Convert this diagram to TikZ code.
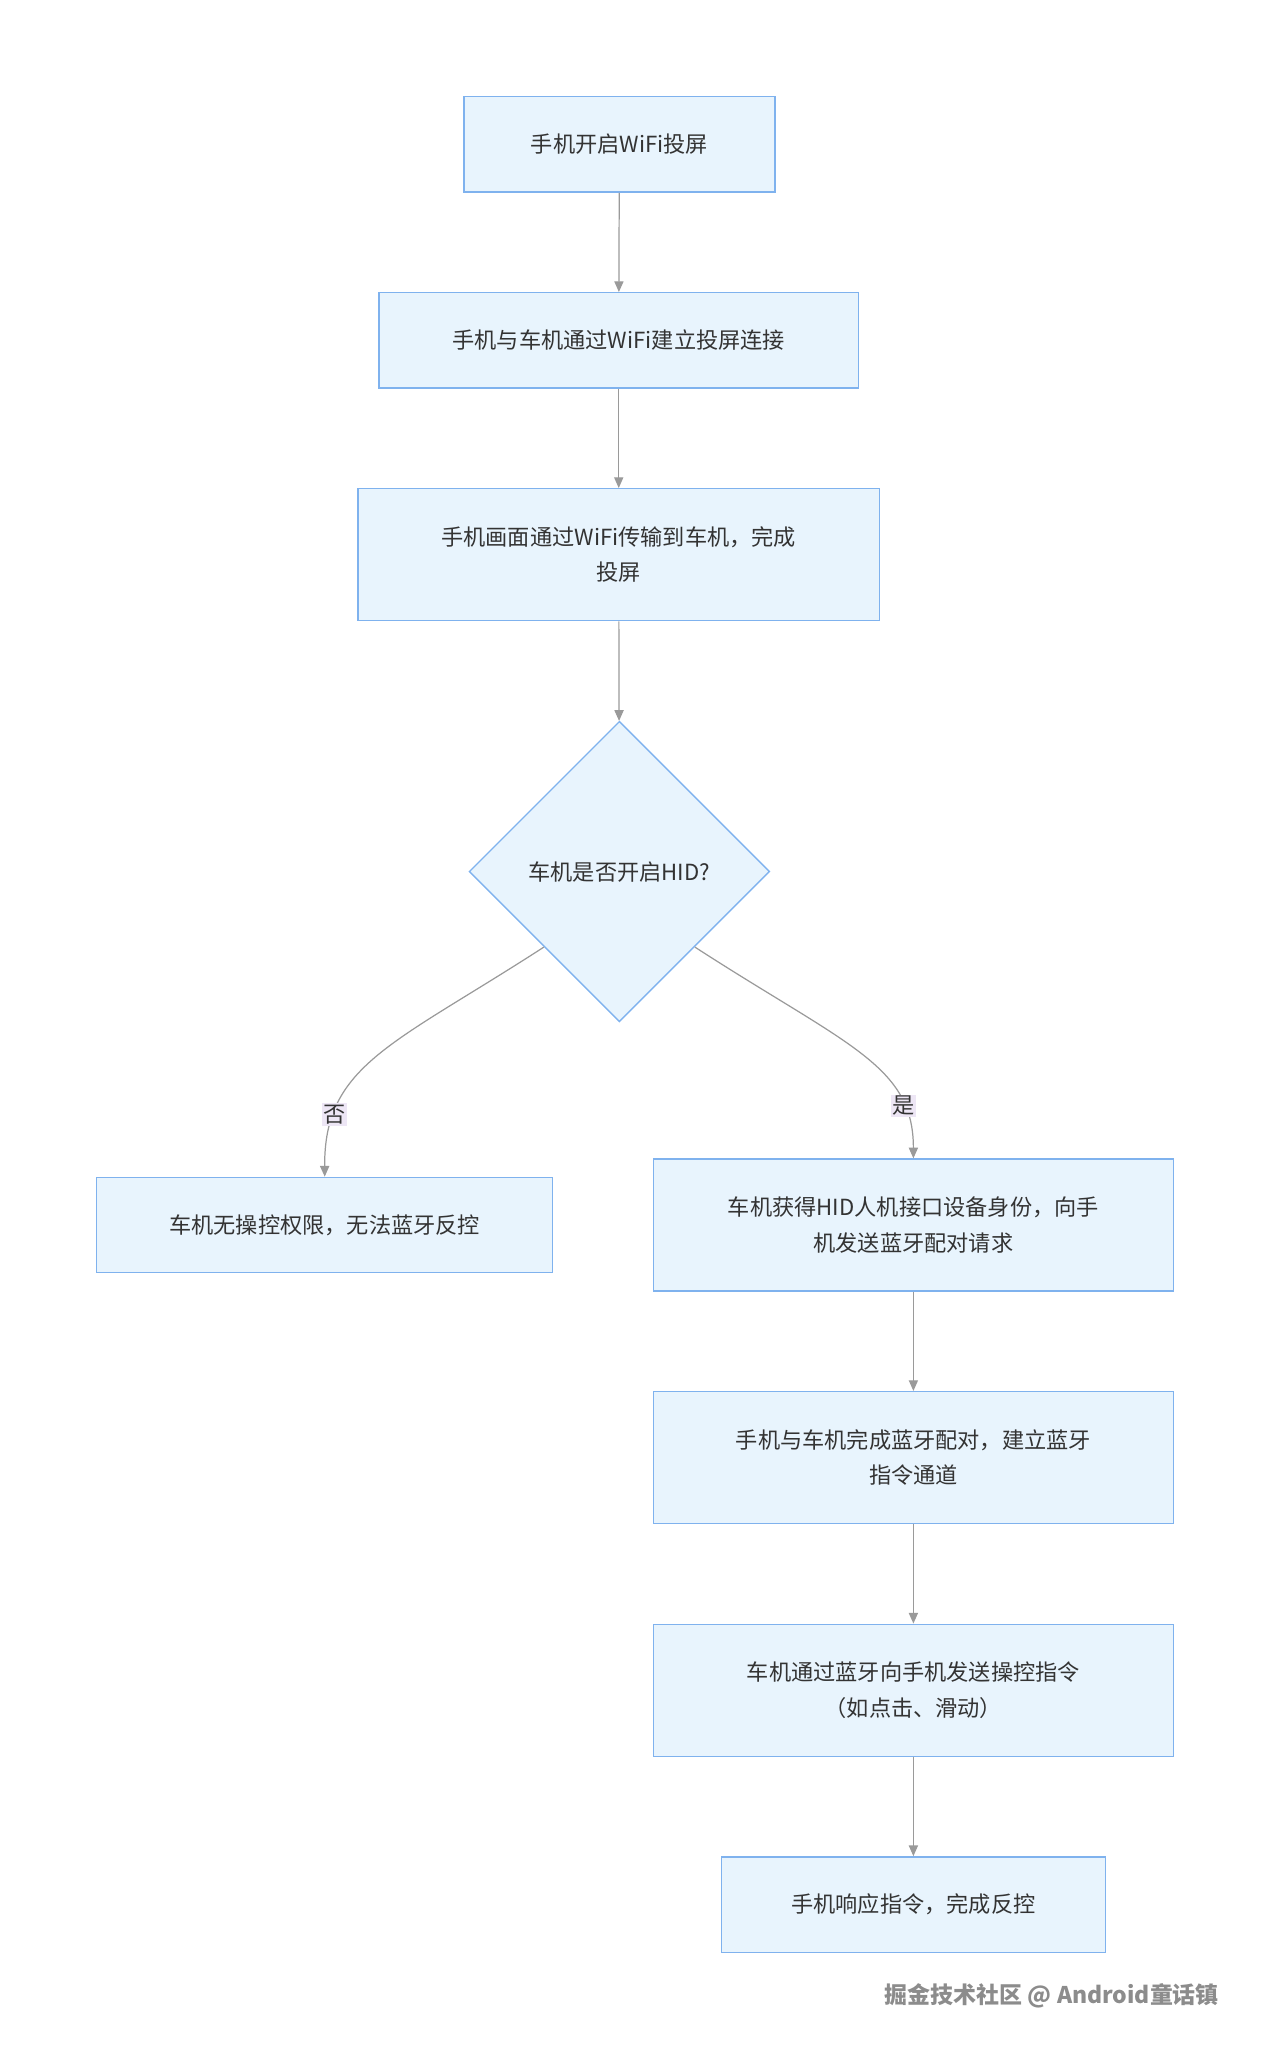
\documentclass[tikz,border=0pt]{standalone}
\usepackage{fontspec}
\setmainfont{Noto Sans CJK SC}
\usepackage{xcolor}
\usetikzlibrary{shapes.geometric,arrows.meta,positioning}
\definecolor{boxfill}{HTML}{E8F4FD}
\definecolor{boxline}{HTML}{7FB2EE}
\definecolor{edgegray}{HTML}{9A9A9A}
\definecolor{lblfill}{HTML}{EDE6F5}
\tikzset{>={Triangle[length=7pt,width=6pt]}}

\begin{document}
\begin{tikzpicture}[x=0.03cm, y=-0.03cm,
                    stepbox/.style={draw=boxline, fill=boxfill, line width=0.9pt,
                                 align=center, inner sep=0pt,
                                 font=\fontsize{14.5}{23}\selectfont, text=black!80},
                    decide/.style={stepbox, diamond, minimum width=6.9cm, minimum height=6.9cm},
                    flow/.style={draw=edgegray, line width=0.8pt, ->},
                    lbl/.style={fill=lblfill, inner sep=1pt, font=\fontsize{14.5}{18}\selectfont, text=black!80},
                   ]

\useasboundingbox (0,0) rectangle (970,1565);

\node[stepbox, minimum width=7.14cm, minimum height=2.19cm] (wifi) at (474,110.5) {手机开启WiFi投屏};
\node[stepbox, minimum width=11.01cm, minimum height=2.19cm] (link) at (473.5,260.5) {手机与车机通过WiFi建立投屏连接};
\node[stepbox, minimum width=11.97cm, minimum height=3.03cm] (cast) at (473.5,424.5) {手机画面通过WiFi传输到车机，完成\\投屏};
\node[decide] (hid) at (474,667) {车机是否开启HID?};
\node[stepbox, minimum width=10.47cm, minimum height=2.19cm] (nohid) at (248.5,937.5) {车机无操控权限，无法蓝牙反控};
\node[stepbox, minimum width=11.94cm, minimum height=3.03cm] (ident) at (699,937.5) {车机获得HID人机接口设备身份，向手\\机发送蓝牙配对请求};
\node[stepbox, minimum width=11.94cm, minimum height=3.03cm] (pair) at (699,1115.5) {手机与车机完成蓝牙配对，建立蓝牙\\指令通道};
\node[stepbox, minimum width=11.94cm, minimum height=3.03cm] (cmd) at (699,1293.5) {车机通过蓝牙向手机发送操控指令\\（如点击、滑动）};
\node[stepbox, minimum width=8.82cm, minimum height=2.19cm] (done) at (699,1457.5) {手机响应指令，完成反控};

\draw[flow] (wifi) -- (link);
\draw[flow] (link) -- (cast);
\draw[flow] (cast) -- (hid);
\draw[flow] (hid.south west) .. controls (300,800) and (248,815) .. node[lbl, pos=0.78] {否} (nohid.north);
\draw[flow] (hid.south east) .. controls (648,800) and (699,815) .. node[lbl, pos=0.78] {是} (ident.north);
\draw[flow] (ident) -- (pair);
\draw[flow] (pair) -- (cmd);
\draw[flow] (cmd) -- (done);

\node[text=black!45, font=\fontsize{15}{18}\selectfont\bfseries] (mark) at (805,1527) {掘金技术社区 @ Android童话镇};

\end{tikzpicture}
\end{document}
